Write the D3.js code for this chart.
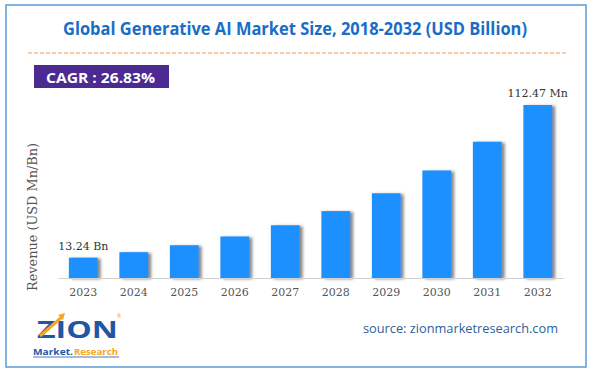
<!DOCTYPE html>
<html>
<head>
<meta charset="utf-8">
<script src="https://cdn.jsdelivr.net/npm/d3@7"></script>
<style>
  body { margin: 0; background: #fff; }
  svg { display: block; }
</style>
</head>
<body>
<div id="vis"></div>
<script>
// values (USD billion)
const years = ["2023", "2024", "2025", "2026", "2027", "2028", "2029", "2030", "2031", "2032"];
const revenue = [13.24, 16.8, 21.3, 27.0, 34.3, 43.5, 55.1, 69.9, 88.6, 112.47];
const endLabels = {"2023": "13.24 Bn", "2032": "112.47 Mn"};
const cagrText = "CAGR : 26.83%";

const W = 592, H = 373;
const plot = {left: 58, right: 563, top: 105, bottom: 278};

const svg = d3.select('#vis').append('svg')
    .attr('width', W)
    .attr('height', H);

const defs = svg.append('defs');
defs.append('filter')
    .attr('id', 'shadow')
    .attr('x', '-20%').attr('y', '-10%')
    .attr('width', '160%').attr('height', '130%')
    .append('feDropShadow')
    .attr('dx', 3).attr('dy', 1)
    .attr('stdDeviation', 1.6)
    .attr('flood-color', '#444')
    .attr('flood-opacity', 0.65);

// outer frame
svg.append('rect')
    .attr('x', 6).attr('y', 5)
    .attr('width', 580).attr('height', 362)
    .attr('fill', '#fff')
    .attr('stroke', '#5b9bd5')
    .attr('stroke-width', 1.5);

// title
svg.append('text')
    .attr('x', 295).attr('y', 35)
    .attr('text-anchor', 'middle')
    .attr('font-family', 'Open Sans, sans-serif')
    .attr('font-weight', 'bold')
    .attr('font-size', 17)
    .attr('fill', '#1a6dc6')
    .attr('textLength', 464)
    .attr('lengthAdjust', 'spacingAndGlyphs')
    .text('Global Generative AI Market Size, 2018-2032 (USD Billion)');

svg.append('line')
    .attr('x1', 28).attr('x2', 568)
    .attr('y1', 53).attr('y2', 53)
    .attr('stroke', '#f39a5a')
    .attr('stroke-width', 1.2)
    .attr('stroke-dasharray', '4,2');

// CAGR badge
svg.append('rect')
    .attr('x', 34).attr('y', 65)
    .attr('width', 135).attr('height', 23)
    .attr('fill', '#4b2a92');
svg.append('text')
    .attr('x', 46).attr('y', 82.5)
    .attr('font-family', 'Open Sans, sans-serif')
    .attr('font-weight', 'bold')
    .attr('font-size', 15)
    .attr('fill', '#fff')
    .attr('textLength', 109)
    .attr('lengthAdjust', 'spacingAndGlyphs')
    .text(cagrText);

// scales
const xScale = d3.scaleBand()
    .domain(years)
    .range([plot.left, plot.right])
    .paddingInner(0.43)
    .paddingOuter(0.215);
const yScale = d3.scaleLinear()
    .domain([0, d3.max(revenue)])
    .range([plot.bottom, plot.top]);

const data = years.map((y, i) => ({year: y, value: revenue[i]}));

svg.append('g')
    .selectAll('rect')
    .data(data)
    .join('rect')
    .attr('x', d => xScale(d.year))
    .attr('y', d => yScale(d.value))
    .attr('width', xScale.bandwidth())
    .attr('height', d => yScale(0) - yScale(d.value))
    .attr('fill', '#1e90ff')
    .attr('filter', 'url(#shadow)');

// x axis
const xAxis = svg.append('g')
    .attr('transform', `translate(0,${plot.bottom})`)
    .call(d3.axisBottom(xScale).tickSize(0).tickPadding(10));
xAxis.select('.domain').attr('stroke', '#d0d0d0').attr('stroke-width', 1.2);
xAxis.selectAll('text')
    .attr('font-family', 'DejaVu Serif, serif')
    .attr('font-size', 11)
    .attr('fill', '#555');

// value labels on first and last bar
svg.append('g')
    .selectAll('text')
    .data(data.filter(d => endLabels[d.year]))
    .join('text')
    .attr('x', d => xScale(d.year) + xScale.bandwidth() / 2)
    .attr('y', d => yScale(d.value) - 8)
    .attr('text-anchor', 'middle')
    .attr('font-family', 'DejaVu Serif, serif')
    .attr('font-size', 11)
    .attr('fill', '#333')
    .text(d => endLabels[d.year]);

// y axis label
svg.append('text')
    .attr('transform', 'translate(37,217) rotate(-90)')
    .attr('text-anchor', 'middle')
    .attr('font-family', 'DejaVu Serif, serif')
    .attr('font-size', 12)
    .attr('fill', '#555')
    .attr('textLength', 148)
    .attr('lengthAdjust', 'spacingAndGlyphs')
    .text('Revenue (USD Mn/Bn)');

// source
svg.append('text')
    .attr('x', 363).attr('y', 333)
    .attr('font-family', 'Open Sans, sans-serif')
    .attr('font-size', 13)
    .attr('fill', '#2f5f98')
    .attr('textLength', 195)
    .attr('lengthAdjust', 'spacingAndGlyphs')
    .text('source: zionmarketresearch.com');

// logo
const logo = svg.append('g');
logo.append('text')
    .attr('x', 37).attr('y', 338)
    .attr('font-family', 'Open Sans, sans-serif')
    .attr('font-weight', 'bold')
    .attr('font-size', 23)
    .attr('fill', '#1f57a4')
    .attr('textLength', 81)
    .attr('lengthAdjust', 'spacingAndGlyphs')
    .text('ZION');
logo.append('path')
    .attr('d', 'M40,336 L62,317')
    .attr('stroke', '#f5a623')
    .attr('stroke-width', 3);
logo.append('path')
    .attr('d', 'M58,315 L65,313 L63,320 Z')
    .attr('fill', '#f5a623');
logo.append('text')
    .attr('x', 117).attr('y', 318)
    .attr('font-family', 'Open Sans, sans-serif')
    .attr('font-size', 5)
    .attr('fill', '#f5a623')
    .text('®');
logo.append('text')
    .attr('x', 33).attr('y', 355)
    .attr('font-family', 'Open Sans, sans-serif')
    .attr('font-weight', 'bold')
    .attr('font-size', 9)
    .attr('fill', '#1f57a4')
    .attr('textLength', 40)
    .attr('lengthAdjust', 'spacingAndGlyphs')
    .text('Market.');
logo.append('text')
    .attr('x', 74).attr('y', 355)
    .attr('font-family', 'Open Sans, sans-serif')
    .attr('font-weight', 'bold')
    .attr('font-size', 9)
    .attr('fill', '#f5a623')
    .attr('textLength', 44)
    .attr('lengthAdjust', 'spacingAndGlyphs')
    .text('Research');
logo.append('line')
    .attr('x1', 33).attr('x2', 119)
    .attr('y1', 357).attr('y2', 357)
    .attr('stroke', '#1f57a4')
    .attr('stroke-width', 0.8);
</script>
</body>
</html>
